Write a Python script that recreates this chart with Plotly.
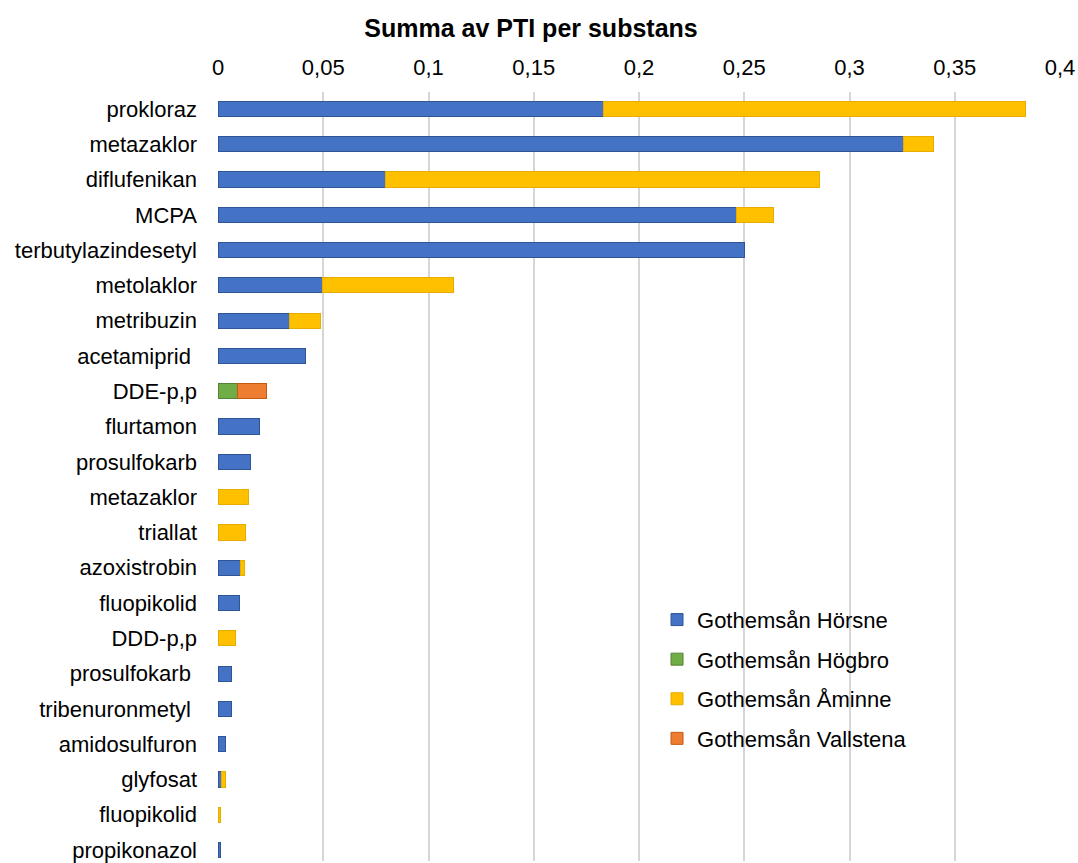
import plotly.graph_objects as go

categories = ["prokloraz", "metazaklor", "diflufenikan", "MCPA", "terbutylazindesetyl",
              "metolaklor", "metribuzin", "acetamiprid\u00a0", "DDE-p,p", "flurtamon",
              "prosulfokarb", "metazaklor", "triallat", "azoxistrobin", "fluopikolid",
              "DDD-p,p", "prosulfokarb\u00a0", "tribenuronmetyl\u00a0", "amidosulfuron",
              "glyfosat", "fluopikolid", "propikonazol"]

horsne = [0.183, 0.3256, 0.0797, 0.2462, 0.250, 0.0497, 0.034, 0.0416, None, 0.0197,
          0.0153, None, None, 0.0107, 0.0102, None, 0.0063, 0.0063, 0.0034, 0.0017, None, 0.001]
hogbro = [None] * 8 + [0.0092] + [None] * 13
aminne = [0.2007, 0.0144, 0.206, 0.0176, None, 0.0623, 0.0148, None, None, None,
          None, 0.0147, 0.0129, 0.0018, None, 0.0085, None, None, None, 0.0017, 0.001, None]
vallstena = [None] * 8 + [0.014] + [None] * 13

series = [
    ("Gothemsån Hörsne", horsne, "#4472C4", "#2F5597"),
    ("Gothemsån Högbro", hogbro, "#70AD47", "#548235"),
    ("Gothemsån Åminne", aminne, "#FFC000", "#E6AD00"),
    ("Gothemsån Vallstena", vallstena, "#ED7D31", "#C55A11"),
]

xtickvals = [0, 0.05, 0.1, 0.15, 0.2, 0.25, 0.3, 0.35, 0.4]
xticktext = ["0", "0,05", "0,1", "0,15", "0,2", "0,25", "0,3", "0,35", "0,4"]

ypos = list(range(len(categories)))

fig = go.Figure()
for i, (name, vals, col, lcol) in enumerate(series):
    fig.add_trace(go.Bar(
        x=vals, y=ypos, orientation="h", name=name,
        marker=dict(color=col, line=dict(color=lcol, width=1)),
        width=0.43, legendgroup=f"g{i}",
    ))

W, H = 1078, 863
fig.update_layout(
    barmode="stack",
    width=W, height=H,
    paper_bgcolor="white", plot_bgcolor="white",
    font=dict(family="Liberation Sans, Arial, sans-serif", size=22, color="#000000"),
    margin=dict(l=218, r=18, t=92, b=0),
    title=dict(text="<b>Summa av PTI per substans</b>", x=531 / W, xanchor="center",
               xref="container", y=1 - 28 / H, yanchor="middle",
               font=dict(size=25, color="#000000")),
    xaxis=dict(side="top", range=[0, 0.4], tickvals=xtickvals, ticktext=xticktext,
               showgrid=True, gridcolor="#D6D6D6", gridwidth=1.5, zeroline=False,
               showline=False, ticks="", ticklabelstandoff=12,
               ticklabeloverflow="allow", tickfont=dict(size=22)),
    yaxis=dict(tickvals=ypos, ticktext=categories, range=[21.31, -0.48],
               showgrid=False, zeroline=False, showline=False, ticks="",
               ticklabelstandoff=20, ticklabeloverflow="allow",
               tickfont=dict(size=22)),
    legend=dict(x=0.5214, y=0.341, xanchor="left", yanchor="top",
                bgcolor="rgba(0,0,0,0)", font=dict(size=22),
                tracegroupgap=8, traceorder="grouped"),
    bargap=0.5,
)

fig.write_html(
    "out.html",
    config={"displayModeBar": False},
    post_script="document.body.style.margin='0';document.body.style.overflow='hidden';",
)
